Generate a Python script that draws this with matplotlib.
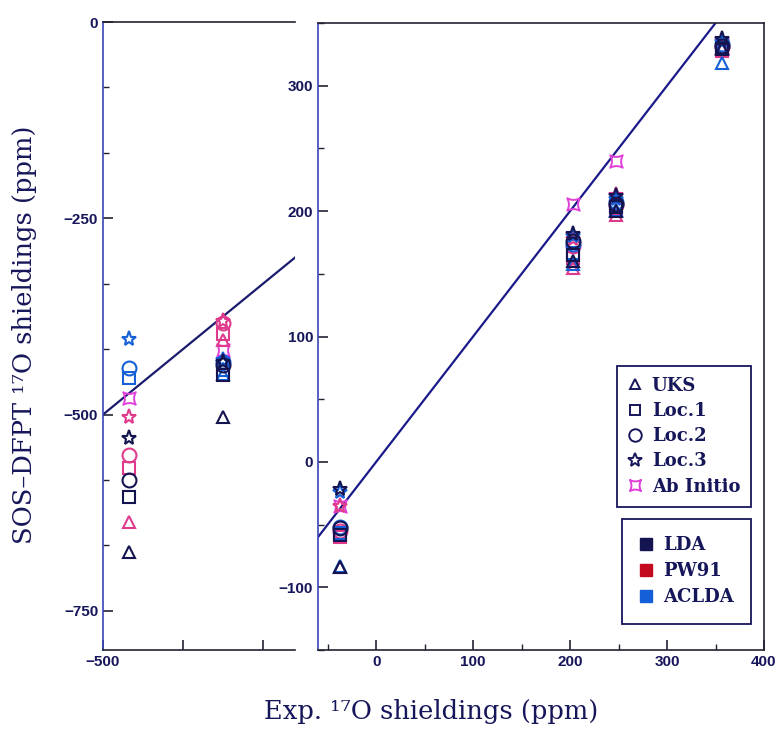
import numpy as np
import matplotlib
matplotlib.use('Agg')
import matplotlib.pyplot as plt
from matplotlib.path import Path
from matplotlib.lines import Line2D
from matplotlib.ticker import MultipleLocator, FixedLocator

#### data ####
# experimental shieldings (x) for the two panels
expLeft  = [-468, -350]
expRight = [-37, 203, 247, 357]

# computed shieldings, left panel (x = expLeft)
ldaLeft = {'UKS': [-675, -503], 'Loc.1': [-605, -450], 'Loc.2': [-583, -437], 'Loc.3': [-530, -433]}
pw91Left = {'UKS': [-637, -405], 'Loc.1': [-568, -398], 'Loc.2': [-552, -384], 'Loc.3': [-503, -381]}
acldaLeft = {'UKS': [np.nan, -448], 'Loc.1': [-454, -443], 'Loc.2': [-441, -433], 'Loc.3': [-404, -430]}
abinitioLeft = [-479, -418]

# computed shieldings, right panel (x = expRight)
ldaRight = {'UKS': [-84, 160, 200, 330], 'Loc.1': [-58, 165, 203, 329],
            'Loc.2': [-53, 176, 206, 332], 'Loc.3': [-22, 182, 212, 337]}
pw91Right = {'UKS': [-84, 155, 197, 329], 'Loc.1': [-60, 163, 202, 328],
             'Loc.2': [-55, 172, 205, 331], 'Loc.3': [-35, 178, 213, 336]}
acldaRight = {'UKS': [-83, 158, 201, 318], 'Loc.1': [-57, 167, 204, 330],
              'Loc.2': [-52, 174, 207, 333], 'Loc.3': [-24, 180, 210, 335]}
abinitioRight = [-35, 206, 240, 330]

# y = x reference line pieces
lineLeftX, lineLeftY = [-500, -260], [-500, -300]
lineRightX, lineRightY = [-60, 350], [-60, 350]

#### styles ####
navy = '#16165a'
colLDA, colPW91, colACLDA, colAB = '#141450', '#e03a8c', '#1560d8', '#e040d8'
legPW91 = '#c40a1e'
markers = {'UKS': '^', 'Loc.1': 's', 'Loc.2': 'o', 'Loc.3': '*'}
msizes = {'UKS': 8, 'Loc.1': 8, 'Loc.2': 10, 'Loc.3': 11}

# "Ab Initio" marker: square with concave sides
c = 0.45
abVerts = [(-1, -1), (0, -c), (1, -1), (c, 0), (1, 1), (0, c), (-1, 1), (-c, 0), (-1, -1), (-1, -1)]
abCodes = [Path.MOVETO] + [Path.CURVE3] * 8 + [Path.CLOSEPOLY]
abMarker = Path(abVerts, abCodes)

tickFont = {'family': 'Liberation Sans', 'weight': 'bold', 'size': 11}
legFont = {'family': 'DejaVu Serif', 'weight': 'bold', 'size': 13}

fig = plt.figure(figsize=(7.78, 7.31), dpi=100)
axL = fig.add_axes([0.1324, 0.1108, 0.2468, 0.859])
axR = fig.add_axes([0.4087, 0.1108, 0.5733, 0.8577])

def plotSet(ax, xs, data, color):
   for k in ['Loc.2', 'Loc.1', 'UKS', 'Loc.3']:
      ax.plot(xs, data[k], ls='none', marker=markers[k], ms=msizes[k], mfc='none',
              mec=color, mew=1.5)

# left panel
axL.plot(lineLeftX, lineLeftY, color='#1a1a6e', lw=1.6)
axL.plot(expLeft, abinitioLeft, ls='none', marker=abMarker, ms=9, mfc='none', mec=colAB, mew=1.4)
plotSet(axL, expLeft, pw91Left, colPW91)
plotSet(axL, expLeft, acldaLeft, colACLDA)
plotSet(axL, expLeft, ldaLeft, colLDA)
axL.set_xlim(-500, -260)
axL.set_ylim(-800, 0)
axL.spines['right'].set_visible(False)
axL.xaxis.set_major_locator(FixedLocator([-500, -400, -300]))
axL.set_xticklabels(['\u2212500', '', ''])
axL.yaxis.set_major_locator(MultipleLocator(250))
axL.yaxis.set_minor_locator(MultipleLocator(250 / 3.))

# right panel
axR.plot(lineRightX, lineRightY, color='#1a1a8a', lw=1.6)
axR.plot(expRight, abinitioRight, ls='none', marker=abMarker, ms=9, mfc='none', mec=colAB, mew=1.4)
plotSet(axR, expRight, pw91Right, colPW91)
plotSet(axR, expRight, acldaRight, colACLDA)
plotSet(axR, expRight, ldaRight, colLDA)
axR.set_xlim(-60, 400)
axR.set_ylim(-150, 350)
axR.xaxis.set_major_locator(MultipleLocator(100))
axR.xaxis.set_minor_locator(MultipleLocator(50))
axR.yaxis.set_major_locator(MultipleLocator(100))
axR.yaxis.set_minor_locator(MultipleLocator(50))

for ax in (axL, axR):
   for s in ax.spines.values():
      s.set_color('#222233')
      s.set_linewidth(1.2)
   ax.spines['left'].set_color('#3a46b8')
   ax.tick_params(which='major', direction='in', length=7, width=1.2, color='#222233',
                  labelcolor=navy, top=False, right=False)
   ax.tick_params(which='minor', direction='in', length=4, width=1.0, color='#222233',
                  top=False, right=False)
   for lab in ax.get_xticklabels() + ax.get_yticklabels():
      lab.set_fontproperties(tickFont)
   ax.set_facecolor('none')

# legends
markerHandles = [Line2D([], [], ls='none', marker=markers[k], ms=msizes[k] - 1, mfc='none', mec=navy, mew=1.4)
                 for k in ['UKS', 'Loc.1', 'Loc.2', 'Loc.3']]
markerHandles.append(Line2D([], [], ls='none', marker=abMarker, ms=8, mfc='none', mec=colAB, mew=1.4))
leg1 = axR.legend(markerHandles, ['UKS', 'Loc.1', 'Loc.2', 'Loc.3', 'Ab Initio'],
                  loc='upper right', bbox_to_anchor=(0.971, 0.453), fancybox=False,
                  edgecolor=navy, framealpha=1, handlelength=0.8, handletextpad=0.55,
                  labelspacing=0.4, borderpad=0.6, borderaxespad=0, prop=legFont)
leg1.get_frame().set_linewidth(1.3)
for t in leg1.get_texts():
   t.set_color(navy)
axR.add_artist(leg1)

funcHandles = [Line2D([], [], ls='none', marker='s', ms=8, mfc=col, mec=col)
               for col in [colLDA, legPW91, colACLDA]]
leg2 = axR.legend(funcHandles, ['LDA', 'PW91', 'ACLDA'],
                  loc='upper right', bbox_to_anchor=(0.971, 0.209), fancybox=False,
                  edgecolor=navy, framealpha=1, handlelength=0.8, handletextpad=0.55,
                  labelspacing=0.45, borderpad=0.95, borderaxespad=0, prop=legFont)
leg2.get_frame().set_linewidth(1.3)
for t in leg2.get_texts():
   t.set_color(navy)

# axis titles
fig.text(0.032, 0.542, 'SOS\u2013DFPT \u00b9\u2077O shieldings (ppm)', rotation=90, ha='center', va='center',
         family='DejaVu Serif', size=18.5, color=navy)
fig.text(0.554, 0.026, 'Exp. \u00b9\u2077O shieldings (ppm)', ha='center', va='center',
         family='DejaVu Serif', size=18.5, color=navy)

fig.savefig('out.png', dpi=100)
